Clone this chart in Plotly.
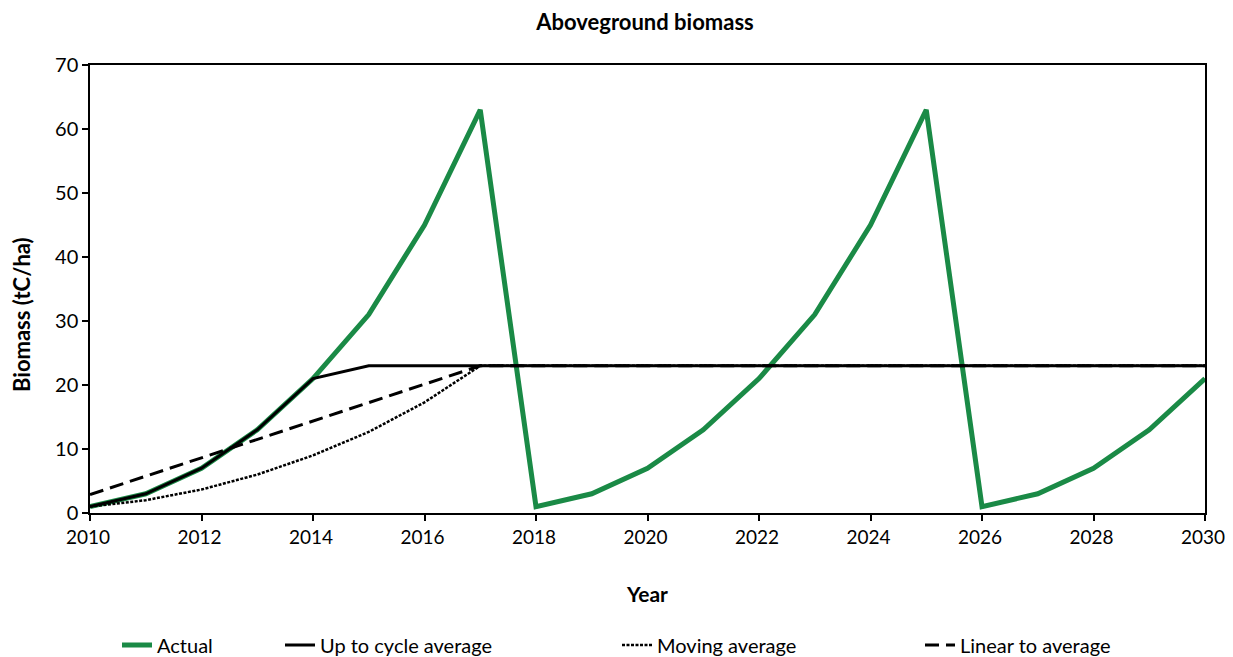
import plotly.graph_objects as go

years = list(range(2010, 2031))
actual = [1, 3, 7, 13, 21, 31, 45, 63, 1, 3, 7, 13, 21, 31, 45, 63, 1, 3, 7, 13, 21]
up_to_cycle = [1, 3, 7, 13, 21, 23, 23, 23, 23, 23, 23, 23, 23, 23, 23, 23, 23, 23, 23, 23, 23]
moving_avg = [1, 2, 3.67, 6, 9, 12.67, 17.29, 23, 23, 23, 23, 23, 23, 23, 23, 23, 23, 23, 23, 23, 23]
linear_avg = [2.875, 5.75, 8.625, 11.5, 14.375, 17.25, 20.125, 23, 23, 23, 23, 23, 23, 23, 23, 23, 23, 23, 23, 23, 23]

FONT = "Lato"
OFF = 8  # page offset of the figure
W, H = 1233 - OFF, 657 - OFF
L, T = 90 - OFF, 65 - OFF
R = W - (1205 - OFF)
B = H - (513 - OFF)
pw = W - L - R
ph = H - T - B

def lx(px):
    return (px - OFF - L) / pw

def ly(py):
    return (ph - (py - OFF - T)) / ph

fig = go.Figure()
fig.add_trace(go.Scatter(x=years, y=actual, mode="lines", name="Actual",
                         line=dict(color="#1a8a46", width=5), legend="legend"))
fig.add_trace(go.Scatter(x=years, y=linear_avg, mode="lines", name="Linear to average",
                         line=dict(color="black", width=3, dash="14px,7px"), legend="legend4"))
fig.add_trace(go.Scatter(x=years, y=moving_avg, mode="lines", name="Moving average",
                         line=dict(color="black", width=2.5, dash="3px,1.5px"), legend="legend3"))
fig.add_trace(go.Scatter(x=years, y=up_to_cycle, mode="lines", name="Up to cycle average",
                         line=dict(color="black", width=3), legend="legend2"))

def leg(px):
    return dict(x=lx(px + 8), y=ly(645), xanchor="left", yanchor="middle", orientation="h",
                font=dict(family=FONT, size=20, color="black"), bgcolor="rgba(0,0,0,0)")

fig.update_layout(
    width=W, height=H,
    margin=dict(l=L, r=R, t=T, b=B, autoexpand=False),
    showlegend=True,
    plot_bgcolor="white", paper_bgcolor="white",
    title=dict(text="<b>Aboveground biomass</b>", x=(645 - OFF) / W, xanchor="center",
               y=1 - (22 - OFF) / H, yanchor="middle",
               font=dict(family=FONT, size=22, color="black")),
    font=dict(family=FONT, size=20, color="black"),
    xaxis=dict(range=[2010, 2030], tickmode="linear", tick0=2010, dtick=2, ticks="outside", ticklen=6,
               tickwidth=1.5, tickcolor="black", showline=True, linecolor="black", linewidth=1.5, mirror=True,
               showgrid=False, zeroline=False, automargin=False, ticklabeloverflow="allow",
               ticklabelshift=-2,
               title=dict(text="<b>Year</b>", standoff=41, font=dict(family=FONT, size=21)),
               tickfont=dict(family=FONT, size=19)),
    yaxis=dict(range=[0, 70], tickmode="linear", tick0=0, dtick=10, ticks="outside", ticklen=6,
               tickwidth=1.5, tickcolor="black", showline=True, linecolor="black", linewidth=1.5, mirror=True,
               showgrid=False, zeroline=False, automargin=False,
               tickfont=dict(family=FONT, size=20)),
    annotations=[dict(text="<b>Biomass (tC/ha)</b>", textangle=-90, xref="paper", yref="paper",
                      x=lx(21), y=ly(315), xanchor="center", yanchor="middle", showarrow=False,
                      font=dict(family=FONT, size=22, color="black"))],
    legend=leg(109),
    legend2=leg(272),
    legend3=leg(609),
    legend4=leg(912),
)

fig.write_html("out.html")
